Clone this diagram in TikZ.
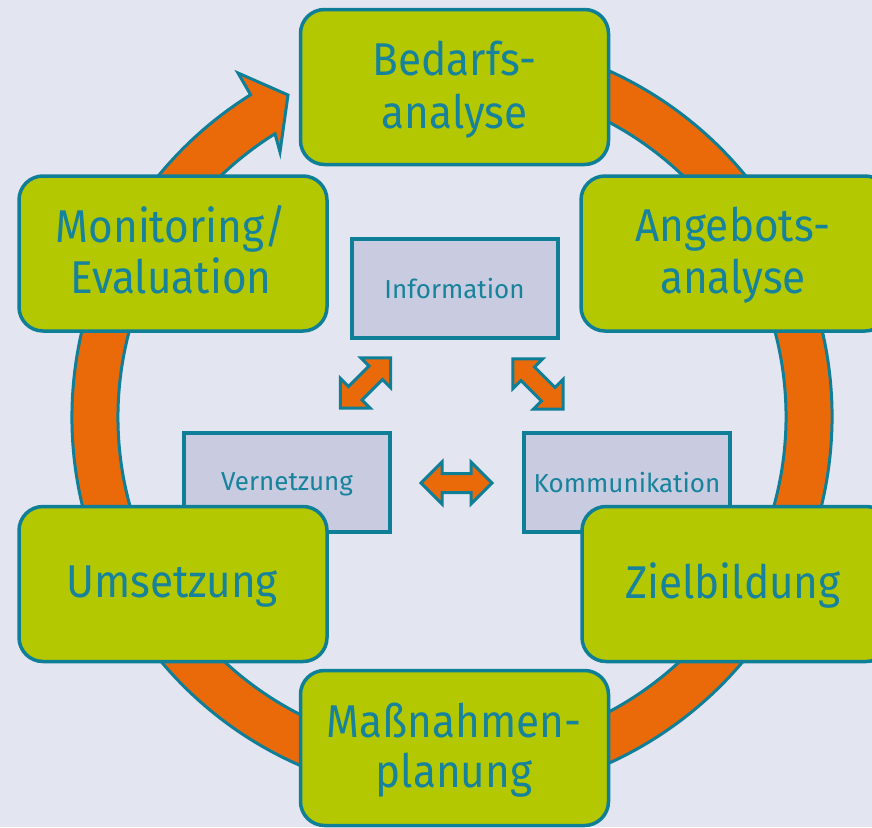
\documentclass[tikz,border=0pt]{standalone}
\usepackage{fontspec}
\setmainfont{Fira Sans}
\newfontfamily\bigfont{Fira Sans}[FakeStretch=0.92]
\usetikzlibrary{calc}
\definecolor{bgc}{HTML}{E3E5F1}
\definecolor{tealc}{HTML}{0F7E97}
\definecolor{txtc}{HTML}{17829C}
\definecolor{greenc}{HTML}{B3C800}
\definecolor{orangec}{HTML}{EA6A0A}
\definecolor{iboxc}{HTML}{C9CCE0}
\tikzset{
  gbox/.style={draw=tealc, fill=greenc, line width=3.5pt, rounded corners=24pt,
    minimum width=308pt, minimum height=155pt, inner sep=0pt},
  ibox/.style={draw=tealc, fill=iboxc, line width=4pt,
    minimum width=206pt, minimum height=99pt, inner sep=0pt},
  bigtxt/.style={text=txtc, anchor=base, inner sep=0pt, font=\bigfont\fontsize{46}{50}\selectfont},
  smalltxt/.style={text=txtc, anchor=base, inner sep=0pt, font=\fontsize{26}{30}\selectfont},
  ringsty/.style={draw=tealc, fill=orangec, line width=3pt, line join=miter},
  sarrow/.style={draw=tealc, fill=orangec, line width=3pt, line join=miter},
  dblarrow/.pic={
    \path[sarrow] (-35.5,0) -- (-14.5,21) -- (-14.5,9.5) -- (14.5,9.5) -- (14.5,21)
      -- (35.5,0) -- (14.5,-21) -- (14.5,-9.5) -- (-14.5,-9.5) -- (-14.5,-21) -- cycle;
  }
}
\begin{document}
\begin{tikzpicture}[x=1pt,y=1pt]
\useasboundingbox (0,0) rectangle (872,-827);
\clip (0,0) rectangle (872,-827);
\fill[bgc] (0,0) rectangle (872,-827);

% cycle ring with arrow head
\coordinate (c) at (452,-417);
\coordinate (barbU) at (238,-73);
\coordinate (tip) at (288,-95);
\coordinate (barbL) at (280,-152);
\path[ringsty] ($(c)+(80:380)$) arc[start angle=80, end angle=-238, radius=380]
  -- (barbU) -- (tip) -- (barbL) -- ($(c)+(-238:334)$)
  arc[start angle=-238, end angle=80, radius=334] -- cycle;

% inner boxes
\node[ibox] (info) at (454.5,-288) {};
\node[ibox] (vern) at (287,-482.5) {};
\node[ibox] (komm) at (627,-482.5) {};
\node[smalltxt] (infot) at (454.5,-298) {Information};
\node[smalltxt] (vernt) at (287,-490) {Vernetzung};
\node[smalltxt] (kommt) at (627,-492) {Kommunikation};

% small double arrows
\pic (arrL) [rotate=45] at (365.5,-383) {dblarrow};
\pic (arrR) [rotate=-45] at (538,-384) {dblarrow};
\pic (arrH) at (456.5,-483) {dblarrow};

% green process boxes
\node[gbox] (bedarf) at (454.5,-87) {};
\node[gbox] (monit) at (173,-253.5) {};
\node[gbox] (angeb) at (735,-253.5) {};
\node[gbox] (umsetz) at (173,-584) {};
\node[gbox] (ziel) at (736,-584) {};
\node[gbox] (massn) at (454.5,-748) {};

\node[bigtxt] (bedarf1) at (454.5,-75) {Bedarfs-};
\node[bigtxt] (bedarf2) at (454.5,-128) {analyse};
\node[bigtxt] (monit1) at (171,-242) {Monitoring/};
\node[bigtxt] (monit2) at (171,-293) {Evaluation};
\node[bigtxt] (angeb1) at (733,-241) {Angebots-};
\node[bigtxt] (angeb2) at (733,-293) {analyse};
\node[bigtxt] (umsetzt) at (172,-597) {Umsetzung};
\node[bigtxt] (zielt) at (733,-598) {Zielbildung};
\node[bigtxt] (massn1) at (454,-737) {Maßnahmen-};
\node[bigtxt] (massn2) at (454,-787) {planung};
\end{tikzpicture}
\end{document}
